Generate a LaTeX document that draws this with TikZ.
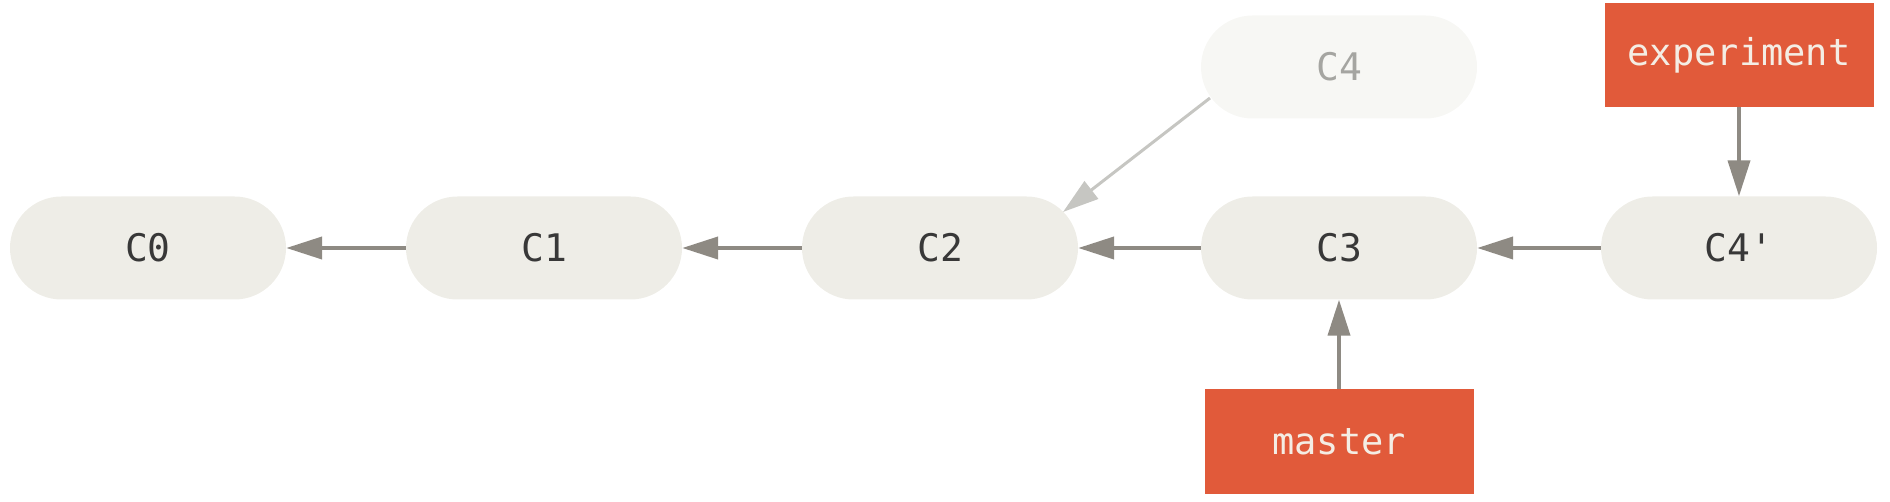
\documentclass[tikz,border=0pt]{standalone}
\usepackage{fontspec}
\setmonofont{DejaVu Sans Mono}
\usetikzlibrary{arrows.meta,calc,shapes.misc}
\definecolor{cfill}{HTML}{EEEDE7}
\definecolor{ffill}{HTML}{F7F7F4}
\definecolor{arrowc}{HTML}{8E8A83}
\definecolor{farrow}{HTML}{C6C6C2}
\definecolor{ftext}{HTML}{A5A5A1}
\definecolor{redc}{HTML}{E15A3A}
\definecolor{redtext}{HTML}{F4EDE4}
\definecolor{darktext}{HTML}{383838}
\begin{document}
\begin{tikzpicture}[x=1pt,y=-1pt,
  commit/.style={fill=cfill, rounded rectangle, minimum width=276pt, minimum height=103pt,
    inner sep=0pt, font=\fontsize{38}{40}\selectfont\ttfamily, text=darktext},
  fadedcommit/.style={commit, fill=ffill, text=ftext},
  branch/.style={fill=redc, minimum width=269pt, minimum height=104pt, inner sep=0pt,
    font=\fontsize{37}{40}\selectfont\ttfamily, text=redtext},
  link/.style={draw=arrowc, line width=4pt, -{Triangle[length=36pt,width=22pt]}, arrowc},
  fadedlink/.style={draw=farrow, line width=3pt, -{Triangle[length=36pt,width=22pt]}, farrow}]
\useasboundingbox (0,0) rectangle (1890,502);
\node[commit] (C0) at (148,248) {C0};
\node[commit] (C1) at (544,248) {C1};
\node[commit] (C2) at (940,248) {C2};
\node[commit] (C3) at (1339,248) {C3};
\node[commit] (C4p) at (1739,248) {C4'};
\node[fadedcommit] (C4) at (1339,67) {C4};
\node[branch] (exp) at (1739,55) {experiment};
\node[branch] (master) at (1339,441.5) {master};
\draw[link] (C1.west) -- (C0.east);
\draw[link] (C2.west) -- (C1.east);
\draw[link] (C3.west) -- (C2.east);
\draw[link] (C4p.west) -- (C3.east);
\draw[link] (exp.south) -- (C4p.north);
\draw[link] (master.north) -- (C3.south);
\draw[fadedlink] ($(C4.center)+(-129,31)$) -- ($(C2.center)+(123,-36)$);
\end{tikzpicture}
\end{document}
